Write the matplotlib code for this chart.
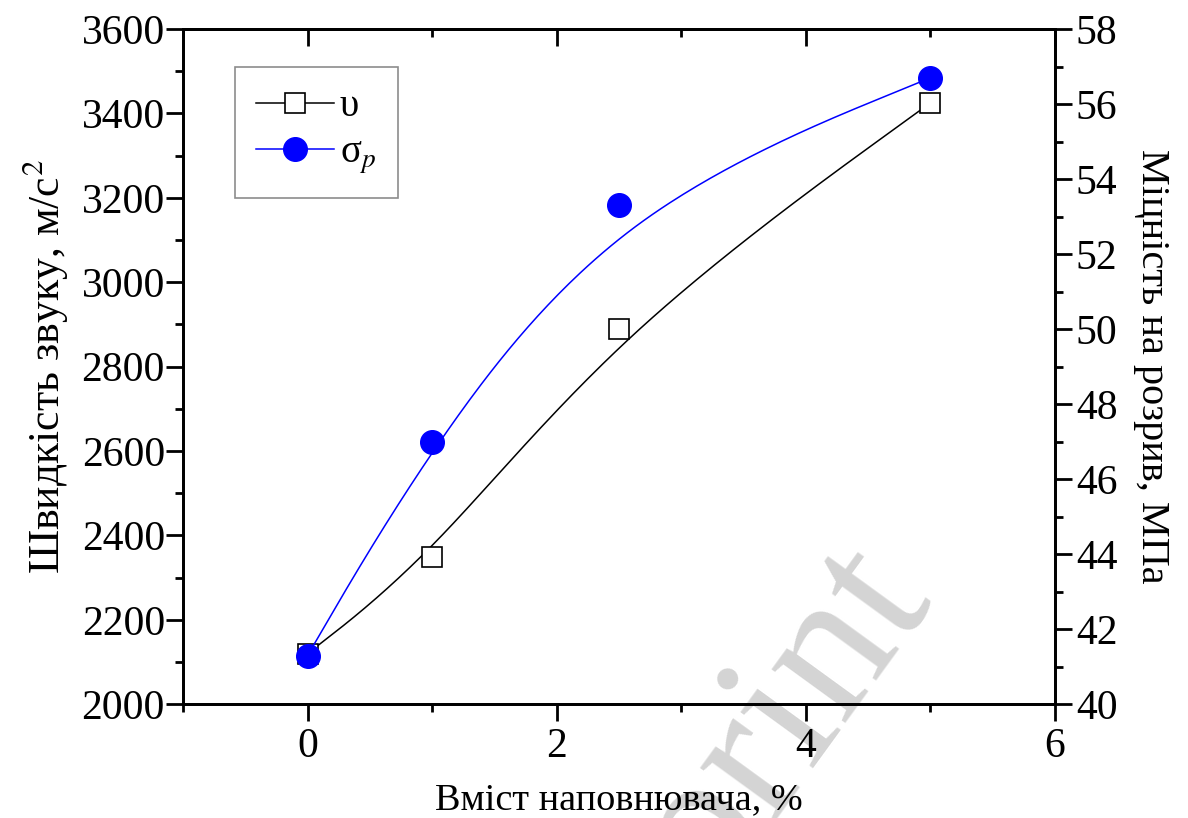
import matplotlib.pyplot as plt
import numpy as np
from matplotlib.ticker import MultipleLocator

# data
filler = [0, 1, 2.5, 5]
speed = [2120, 2350, 2890, 3425]        # m/s^2, left axis
strength = [41.3, 47.0, 53.3, 56.7]     # MPa, right axis

plt.rcParams['font.family'] = ['Liberation Serif', 'DejaVu Serif']
plt.rcParams['mathtext.fontset'] = 'stix'


def bspline(x, y, n=60):
    # clamped uniform cubic B-spline with the points as control points
    # (the "B-spline" line connection of the original software)
    px = np.r_[[x[0]] * 2, x, [x[-1]] * 2].astype(float)
    py = np.r_[[y[0]] * 2, y, [y[-1]] * 2].astype(float)
    t = np.linspace(0, 1, n)
    b0 = (1 - t) ** 3 / 6
    b1 = (3 * t ** 3 - 6 * t ** 2 + 4) / 6
    b2 = (-3 * t ** 3 + 3 * t ** 2 + 3 * t + 1) / 6
    b3 = t ** 3 / 6
    xs, ys = [], []
    for i in range(len(px) - 3):
        xs.append(b0 * px[i] + b1 * px[i + 1] + b2 * px[i + 2] + b3 * px[i + 3])
        ys.append(b0 * py[i] + b1 * py[i + 1] + b2 * py[i + 2] + b3 * py[i + 3])
    return np.concatenate(xs), np.concatenate(ys)


fig = plt.figure(figsize=(11.88, 8.18), dpi=100)
ax = fig.add_axes([0.154, 0.139, 0.734, 0.8255])
ax2 = ax.twinx()
ax.patch.set_visible(False)
ax2.patch.set_visible(False)

xs, ys = bspline(filler, speed)
ax.plot(xs, ys, color='black', lw=1.1)
ax.plot(filler, speed, 's', ms=14, mfc='white', mec='black', mew=1.2)

xs, ys = bspline(filler, strength)
ax2.plot(xs, ys, color='blue', lw=1.1)
ax2.plot(filler, strength, 'o', ms=17, color='blue')

ax.set_xlim(-1, 6)
ax.set_ylim(2000, 3600)
ax2.set_ylim(40, 58)

ax.xaxis.set_major_locator(MultipleLocator(2))
ax.xaxis.set_minor_locator(MultipleLocator(1))
ax.yaxis.set_major_locator(MultipleLocator(200))
ax.yaxis.set_minor_locator(MultipleLocator(100))
ax2.yaxis.set_major_locator(MultipleLocator(2))
ax2.yaxis.set_minor_locator(MultipleLocator(1))

for a in (ax, ax2):
    for s in a.spines.values():
        s.set_linewidth(2)
    a.tick_params(which='major', direction='out', length=12, width=2,
                  labelsize=30, pad=5)
    a.tick_params(which='minor', direction='out', length=6, width=2)
ax.tick_params(right=False, which='both')
ax.tick_params(axis='y', pad=1)
ax2.tick_params(axis='y', pad=3)

top = ax.secondary_xaxis('top')
top.xaxis.set_major_locator(MultipleLocator(2))
top.xaxis.set_minor_locator(MultipleLocator(1))
top.tick_params(which='major', direction='in', length=12, width=2, labeltop=False)
top.tick_params(which='minor', direction='in', length=6, width=2)
top.spines['top'].set_linewidth(2)

ax.set_xlabel('Вміст наповнювача, %', fontsize=27.5, labelpad=12)
ax.set_ylabel('Швидкість звуку, м/с$^2$', fontsize=31.5, labelpad=8)
ax2.set_ylabel('Міцність на розрив, МПа', fontsize=29, rotation=270, labelpad=38)

h1 = plt.Line2D([], [], color='black', lw=1.1, marker='s', ms=14,
                mfc='white', mec='black', mew=1.2)
h2 = plt.Line2D([], [], color='blue', lw=1.1, marker='o', ms=17)
leg = ax2.legend([h1, h2], ['υ', 'σ$_{p}$'], loc='upper left',
                 bbox_to_anchor=(235 / 1188, 1 - 67 / 818),
                 bbox_transform=fig.transFigure, fontsize=28, fancybox=False,
                 edgecolor='#707070', handlelength=2.0, borderpad=0.55,
                 labelspacing=0.25, handletextpad=0.15, borderaxespad=0)
leg.get_frame().set_linewidth(1.2)

# watermark of the source
fig.text(932 / 1188, 1 - 597 / 818, 'Preprint', fontsize=143, color='#d4d4d4',
         rotation=54, rotation_mode='anchor', ha='right', va='baseline', zorder=-1)

fig.savefig('out.png', dpi=100)
